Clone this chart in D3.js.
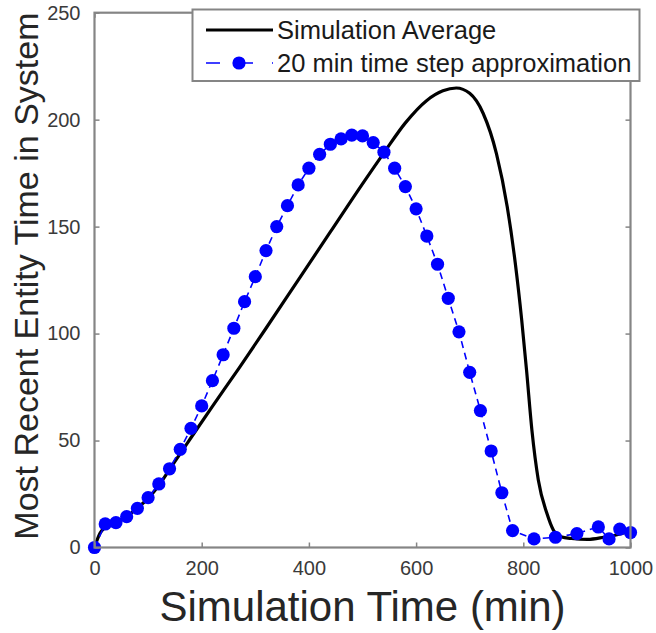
<!DOCTYPE html>
<html>
<head>
<meta charset="utf-8">
<script src="https://cdn.jsdelivr.net/npm/d3@7"></script>
<style>
  html, body { margin: 0; padding: 0; background: #ffffff; }
  svg { display: block; }
  text { font-family: "Liberation Sans", Arial, Helvetica, sans-serif; }
</style>
</head>
<body>
<svg id="chart" width="656" height="633"></svg>
<script>
// ---- Data ----
const xTickValues = [0, 200, 400, 600, 800, 1000];
const yTickValues = [0, 50, 100, 150, 200, 250];

// Simulation Average (black solid line)
const avgTime  = [0, 10, 20, 40, 60, 80, 100, 120, 140, 180, 220, 270, 320, 380, 440, 500, 540, 580, 620, 650, 675, 700, 725, 750, 770, 785, 797, 806, 816, 828, 844, 856, 870, 890, 920, 950, 980, 1000];
const avgValue = [0, 6.5, 9.5, 12, 14.5, 18.5, 23, 29, 36.5, 51.3, 66, 84, 102.5, 125, 147.5, 170, 184.5, 198.5, 209, 213.5, 214.8, 212.3, 203, 184, 159.3, 133, 106.4, 83, 55, 31.6, 16, 8.2, 5, 4.2, 3.8, 4.8, 6.3, 8];

// 20 min time step approximation (blue dashed line with markers)
const stepTime  = [0, 20, 40, 60, 80, 100, 120, 140, 160, 180, 200, 220, 240, 260, 280, 300, 320, 340, 360, 380, 400, 420, 440, 460, 480, 500, 520, 540, 560, 580, 600, 620, 640, 660, 680, 700, 720, 740, 760, 780, 820, 860, 900, 940, 960, 980, 1000];
const stepValue = [0, 11.0, 11.6, 14.4, 18.3, 23.3, 29.7, 36.8, 45.9, 55.7, 66.2, 78.0, 90.1, 102.5, 114.9, 126.6, 138.8, 150.0, 159.8, 169.5, 177.3, 183.8, 188.5, 191.0, 192.8, 192.4, 189.3, 184.8, 177.3, 168.7, 158.3, 145.6, 132.4, 116.5, 100.8, 81.9, 64.0, 45.1, 25.6, 7.9, 4.0, 4.8, 6.5, 9.6, 4.0, 8.6, 7.0];

const legendLabels = ["Simulation Average", "20 min time step approximation"];
const xLabel = "Simulation Time (min)";
const yLabel = "Most Recent Entity Time in System";

// ---- Layout ----
const plotLeft = 94.5, plotRight = 630.5, plotTop = 12.7, plotBottom = 547.5;
const svg = d3.select("#chart");

const x = d3.scaleLinear().domain([0, 1000]).range([plotLeft, plotRight]);
const y = d3.scaleLinear().domain([0, 250]).range([plotBottom, plotTop]);

const axisColor = "#858585";
const tickTextColor = "#3a3a3a";

// Data layers
const avgPts = avgTime.map((t, i) => [t, avgValue[i]]);
const stepPts = stepTime.map((t, i) => [t, stepValue[i]]);

svg.append("path")
  .datum(avgPts)
  .attr("fill", "none")
  .attr("stroke", "#000000")
  .attr("stroke-width", 3.2)
  .attr("stroke-linejoin", "round")
  .attr("d", d3.line().x(d => x(d[0])).y(d => y(d[1])).curve(d3.curveMonotoneX));

svg.append("path")
  .datum(stepPts)
  .attr("fill", "none")
  .attr("stroke", "#0000ff")
  .attr("stroke-width", 1.6)
  .attr("stroke-dasharray", "7,5")
  .attr("d", d3.line().x(d => x(d[0])).y(d => y(d[1])));

svg.append("g").selectAll("circle")
  .data(stepPts)
  .join("circle")
  .attr("cx", d => x(d[0]))
  .attr("cy", d => y(d[1]))
  .attr("r", 6.6)
  .attr("fill", "#0000ff");

// Axes (box with inward ticks)
function styleAxis(g) {
  g.select(".domain").remove();
  g.selectAll(".tick line").attr("stroke", axisColor).attr("stroke-width", 1.5);
  g.selectAll(".tick text")
    .attr("fill", tickTextColor)
    .style("font-size", "20px")
    .style("font-family", "'Liberation Sans', Arial, sans-serif");
}

svg.append("g")
  .attr("transform", `translate(0,${plotBottom})`)
  .call(d3.axisBottom(x).tickValues(xTickValues).tickSizeInner(-5).tickSizeOuter(0).tickPadding(13).tickFormat(d3.format("d")))
  .call(styleAxis);

svg.append("g")
  .attr("transform", `translate(${plotLeft},0)`)
  .call(d3.axisLeft(y).tickValues(yTickValues).tickSizeInner(-5).tickSizeOuter(0).tickPadding(14).tickFormat(d3.format("d")))
  .call(styleAxis);

svg.append("g")
  .attr("transform", `translate(${plotRight},0)`)
  .call(d3.axisRight(y).tickValues(yTickValues).tickSizeInner(-5).tickSizeOuter(0).tickFormat(""))
  .call(styleAxis);

svg.append("g")
  .attr("transform", `translate(0,${plotTop})`)
  .call(d3.axisTop(x).tickValues(xTickValues).tickSizeInner(-5).tickSizeOuter(0).tickFormat(""))
  .call(styleAxis);

svg.append("rect")
  .attr("x", plotLeft).attr("y", plotTop)
  .attr("width", plotRight - plotLeft).attr("height", plotBottom - plotTop)
  .attr("fill", "none")
  .attr("stroke", axisColor)
  .attr("stroke-width", 2.2);

// Axis labels
svg.append("text")
  .attr("x", (plotLeft + plotRight) / 2)
  .attr("y", 621)
  .attr("text-anchor", "middle")
  .attr("fill", "#262626")
  .style("font-size", "42px")
  .text(xLabel);

svg.append("text")
  .attr("transform", `translate(38,${(plotTop + plotBottom) / 2 - 4}) rotate(-90)`)
  .attr("text-anchor", "middle")
  .attr("fill", "#262626")
  .style("font-size", "34px")
  .text(yLabel);

// Legend
const lg = svg.append("g");
lg.append("rect")
  .attr("x", 192.5).attr("y", 9.5)
  .attr("width", 447).attr("height", 71.5)
  .attr("fill", "#ffffff")
  .attr("stroke", axisColor)
  .attr("stroke-width", 2);

const rowY = [30, 63];
lg.append("line")
  .attr("x1", 206).attr("x2", 273)
  .attr("y1", rowY[0]).attr("y2", rowY[0])
  .attr("stroke", "#000000").attr("stroke-width", 3.2);
lg.append("line")
  .attr("x1", 206).attr("x2", 273)
  .attr("y1", rowY[1]).attr("y2", rowY[1])
  .attr("stroke", "#0000ff").attr("stroke-width", 1.6)
  .attr("stroke-dasharray", "14,19");
lg.append("circle")
  .attr("cx", 239).attr("cy", rowY[1]).attr("r", 6.6)
  .attr("fill", "#0000ff");

lg.selectAll("text.leg")
  .data(legendLabels)
  .join("text")
  .attr("class", "leg")
  .attr("x", 277)
  .attr("y", (d, i) => rowY[i])
  .attr("dy", "0.35em")
  .attr("fill", "#1a1a1a")
  .style("font-size", "25.5px")
  .text(d => d);
</script>
</body>
</html>
